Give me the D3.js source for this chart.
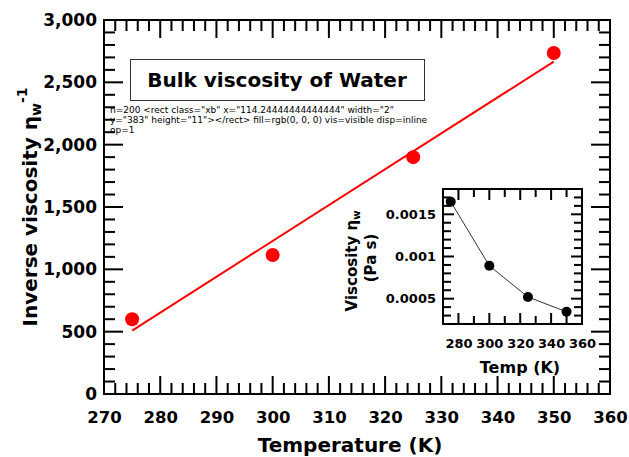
<!DOCTYPE html>
<html>
<head>
<meta charset="utf-8">
<script src="https://cdn.jsdelivr.net/npm/d3@7"></script>
<style>
  html, body { margin: 0; padding: 0; background: #fff; }
  svg { display: block; font-family: "DejaVu Sans", Verdana, sans-serif; font-weight: bold; }
</style>
</head>
<body>
<svg id="chart" width="629" height="457"></svg>
<script>
// Measured temperatures (K)
const temperatures = [275, 300, 325, 350];
// Inverse bulk viscosity of water, 1/(Pa s)
const inverseViscosity = [600, 1115, 1900, 2735];
// Bulk viscosity of water (Pa s)
const viscosity = [0.00165, 0.00089, 0.00052, 0.000345];

// Axis tick values
const mainXTicks = [270, 280, 290, 300, 310, 320, 330, 340, 350, 360];
const mainYTicks = [0, 500, 1000, 1500, 2000, 2500, 3000];
const insetXTicks = [280, 300, 320, 340, 360];
const insetYTicks = [0.0005, 0.001, 0.0015];

const svg = d3.select("#chart");
const TICK_W = 2;

function labelAxis(g, font) {
  g.select(".domain").remove();
  g.selectAll(".tick line").remove();
  g.selectAll(".tick text").attr("fill", "#000").attr("font-size", font)
    .attr("font-family", "DejaVu Sans").attr("font-weight", "bold");
}

function drawFrame(xs, ys, o) {
  const [x0, x1] = xs.range();
  const [y0, y1] = ys.range();
  const layer = svg.append("g");

  if (o.background) {
    layer.append("rect")
      .attr("x", x0).attr("y", y1).attr("width", x1 - x0).attr("height", y0 - y1)
      .attr("fill", o.background);
  }

  const xMarks = o.xMinor.map(v => ({ v, len: o.minor }))
    .concat(o.xTicks.map(v => ({ v, len: o.major })));
  const yMarks = o.yMinor.map(v => ({ v, len: o.minor }))
    .concat(o.yTicks.map(v => ({ v, len: o.majorY })));

  const marks = layer.append("g").attr("class", "marks").attr("fill", "#000");
  marks.selectAll("rect.xb").data(xMarks).join("rect").attr("class", "xb")
    .attr("x", d => xs(d.v) - TICK_W / 2).attr("width", TICK_W)
    .attr("y", d => y0 - d.len).attr("height", d => d.len);
  marks.selectAll("rect.xt").data(xMarks).join("rect").attr("class", "xt")
    .attr("x", d => xs(d.v) - TICK_W / 2).attr("width", TICK_W)
    .attr("y", y1).attr("height", d => d.len);
  marks.selectAll("rect.yl").data(yMarks).join("rect").attr("class", "yl")
    .attr("y", d => ys(d.v) - TICK_W / 2).attr("height", TICK_W)
    .attr("x", x0).attr("width", d => d.len);
  marks.selectAll("rect.yr").data(yMarks).join("rect").attr("class", "yr")
    .attr("y", d => ys(d.v) - TICK_W / 2).attr("height", TICK_W)
    .attr("x", d => x1 - d.len).attr("width", d => d.len);

  layer.append("g").attr("transform", `translate(0,${y0})`)
    .call(d3.axisBottom(xs).tickValues(o.xTicks).tickSize(0).tickPadding(o.xPad).tickFormat(o.xFormat))
    .call(labelAxis, o.xFont);
  layer.append("g").attr("transform", `translate(${x0},0)`)
    .call(d3.axisLeft(ys).tickValues(o.yTicks).tickSize(0).tickPadding(o.yPad).tickFormat(o.yFormat))
    .call(labelAxis, o.yFont);

  layer.append("rect")
    .attr("x", x0).attr("y", y1).attr("width", x1 - x0).attr("height", y0 - y1)
    .attr("fill", "none").attr("stroke", "#000").attr("stroke-width", 2);
  return layer;
}

const x = d3.scaleLinear().domain([270, 360]).range([104, 610]);
const y = d3.scaleLinear().domain([0, 3000]).range([394, 20]);

drawFrame(x, y, {
  xTicks: mainXTicks, xMinor: d3.range(272, 360, 2).filter(v => v % 10 !== 0),
  xFormat: d3.format("d"), xPad: 17, xFont: 16.5,
  yTicks: mainYTicks, yMinor: d3.range(100, 3000, 100).filter(v => v % 500 !== 0),
  yFormat: d3.format(","), yPad: 7, yFont: 17,
  major: 18, majorY: 19, minor: 11
});

const mx = d3.mean(temperatures), my = d3.mean(inverseViscosity);
const slope = d3.sum(temperatures, (t, i) => (t - mx) * (inverseViscosity[i] - my)) /
              d3.sum(temperatures, t => (t - mx) * (t - mx));
const intercept = my - slope * mx;
const fitEnds = d3.extent(temperatures);
svg.append("line")
  .attr("x1", x(fitEnds[0])).attr("y1", y(intercept + slope * fitEnds[0]))
  .attr("x2", x(fitEnds[1])).attr("y2", y(intercept + slope * fitEnds[1]))
  .attr("stroke", "#ff0000").attr("stroke-width", 2);

svg.append("g").selectAll("circle")
  .data(temperatures.map((t, i) => [t, inverseViscosity[i]]))
  .join("circle")
  .attr("cx", d => x(d[0])).attr("cy", d => y(d[1])).attr("r", 7)
  .attr("fill", "#ff0000");

svg.append("rect")
  .attr("x", 130.5).attr("y", 59.5).attr("width", 294).attr("height", 41)
  .attr("fill", "#fff").attr("stroke", "#333").attr("stroke-width", 1);
svg.append("text")
  .attr("x", 277).attr("y", 87).attr("text-anchor", "middle")
  .attr("font-size", 20).text("Bulk viscosity of Water");

svg.append("text")
  .attr("x", 350).attr("y", 452)
  .attr("text-anchor", "middle").attr("font-size", 20)
  .text("Temperature (K)");

const yTitle = svg.append("text")
  .attr("transform", "translate(37,207) rotate(-90)")
  .attr("text-anchor", "middle").attr("font-size", 20);
yTitle.append("tspan").text("Inverse viscosity η");
yTitle.append("tspan").attr("font-size", 14).attr("dy", 4).text("w");
yTitle.append("tspan").attr("font-size", 14).attr("dy", -14).text("-1");

const xi = d3.scaleLinear().domain([270, 360]).range([443, 582]);
const yi = d3.scaleLinear().domain([0.0002, 0.0018]).range([324, 189]);

drawFrame(xi, yi, {
  xTicks: insetXTicks.filter(v => v < 360), xMinor: d3.range(290, 360, 20),
  xFormat: d3.format("d"), xPad: 15, xFont: 13,
  yTicks: insetYTicks, yMinor: d3.range(3, 18).map(k => k / 10000).filter(v => Math.round(v * 10000) % 5 !== 0),
  yFormat: d => String(+d.toFixed(4)), yPad: 7, yFont: 13,
  major: 11, majorY: 11, minor: 8, background: "#fff"
});
svg.append("g").attr("transform", "translate(0,324)")
  .call(d3.axisBottom(xi).tickValues([360]).tickSize(0).tickPadding(15).tickFormat(d3.format("d")))
  .call(labelAxis, 13);

const insetPts = temperatures.map((t, i) => [t, viscosity[i]]);
svg.append("path")
  .datum(insetPts)
  .attr("d", d3.line().x(d => xi(d[0])).y(d => yi(d[1])))
  .attr("fill", "none").attr("stroke", "#333").attr("stroke-width", 1);
svg.append("g").selectAll("circle")
  .data(insetPts)
  .join("circle")
  .attr("cx", d => xi(d[0])).attr("cy", d => yi(d[1])).attr("r", 5)
  .attr("fill", "#000");

svg.append("text")
  .attr("x", 520).attr("y", 373).attr("text-anchor", "middle")
  .attr("font-size", 16).text("Temp (K)");

const iy1 = svg.append("text")
  .attr("transform", "translate(357,261) rotate(-90)")
  .attr("text-anchor", "middle").attr("font-size", 15);
iy1.append("tspan").text("Viscosity η");
iy1.append("tspan").attr("font-size", 10).attr("dy", 3).text("w");
svg.append("text")
  .attr("transform", "translate(376,258) rotate(-90)")
  .attr("text-anchor", "middle").attr("font-size", 15)
  .text("(Pa s)");

// diagnostics
const r0 = svg.select("g.marks rect").node();
const cs = getComputedStyle(r0);
const info = "n=" + svg.selectAll("g.marks rect").size() + " " + r0.outerHTML +
  " fill=" + cs.fill + " vis=" + cs.visibility + " disp=" + cs.display + " op=" + cs.opacity;
svg.append("foreignObject").attr("x", 110).attr("y", 105).attr("width", 320).attr("height", 60)
  .append("xhtml:div").style("font-size", "9px").style("font-weight", "normal").text(info);
</script>
</body>
</html>
